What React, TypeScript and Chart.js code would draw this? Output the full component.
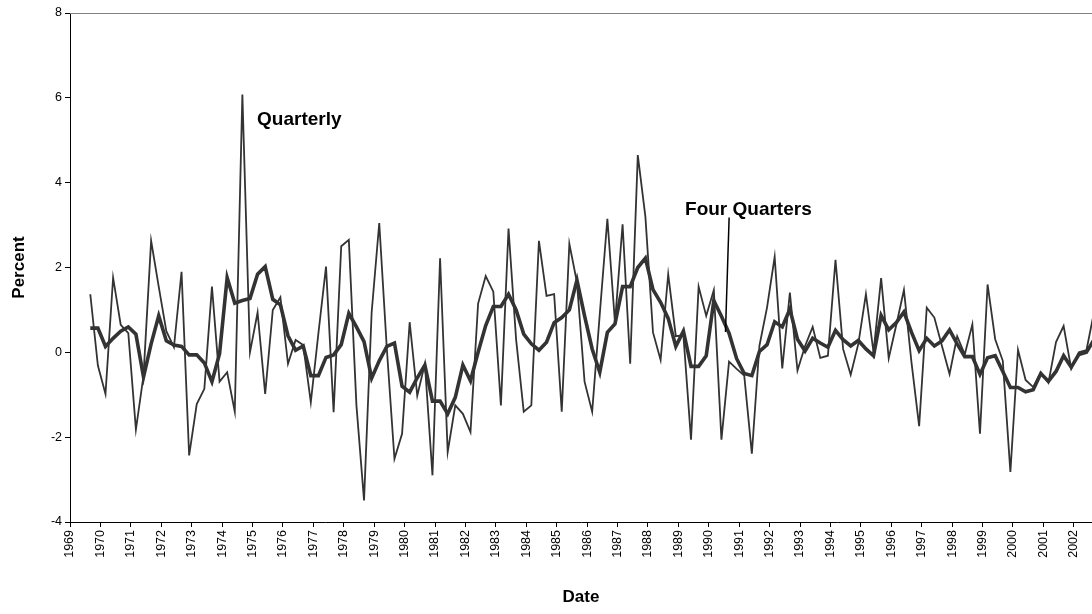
import React, { useEffect, useRef } from "react";
import { Chart, registerables } from "chart.js";

Chart.register(...registerables);

// First quarterly observation (1969 Q3) in fractional years, one step per quarter
const START_YEAR = 1969.667;
const QUARTER_STEP = 0.25;

// Quarterly series (percent)
const quarterly: number[] = [
  1.37, -0.31, -0.98, 1.76, 0.65, 0.45, -1.82, -0.55, 2.63, 1.55,
  0.5, 0.12, 1.9, -2.43, -1.22, -0.86, 1.55, -0.69, -0.47, -1.4,
  6.08, 0.0, 0.94, -0.98, 1.0, 1.3, -0.27, 0.29, 0.17, -1.18,
  0.45, 2.02, -1.41, 2.5, 2.65, -1.25, -3.49, 0.94, 3.05, 0.08,
  -2.51, -1.92, 0.71, -1.02, -0.27, -2.9, 2.22, -2.35, -1.25, -1.45,
  -1.88, 1.15, 1.8, 1.43, -1.25, 2.92, 0.3, -1.4, -1.25, 2.63,
  1.33, 1.37, -1.4, 2.56, 1.65, -0.69, -1.4, 0.9, 3.15, 0.7,
  3.02, -0.27, 4.65, 3.2, 0.47, -0.18, 1.84, 0.38, 0.4, -2.06,
  1.55, 0.86, 1.47, -2.06, -0.22, -0.39, -0.55, -2.39, 0.16, 1.06,
  2.25, -0.38, 1.41, -0.43, 0.15, 0.6, -0.13, -0.08, 2.18, 0.08,
  -0.53, 0.2, 1.37, 0.0, 1.75, -0.14, 0.65, 1.47, -0.25, -1.74,
  1.05, 0.82, 0.15, -0.51, 0.38, -0.05, 0.66, -1.92, 1.6, 0.31,
  -0.2, -2.82, 0.06, -0.65, -0.82, -0.47, -0.72, 0.24, 0.62, -0.39,
  0.0, 0.05, 0.95,
];

// Four-quarter series (percent)
const fourQuarters: number[] = [
  0.57, 0.57, 0.14, 0.33, 0.5, 0.6, 0.43, -0.58, 0.2, 0.86,
  0.27, 0.17, 0.14, -0.06, -0.06, -0.25, -0.69, -0.03, 1.76, 1.16,
  1.22, 1.27, 1.84, 2.02, 1.25, 1.12, 0.39, 0.05, 0.15, -0.55,
  -0.55, -0.12, -0.06, 0.18, 0.92, 0.6, 0.25, -0.61, -0.2, 0.14,
  0.22, -0.8, -0.94, -0.6, -0.3, -1.15, -1.15, -1.45, -1.06, -0.3,
  -0.67, 0.0, 0.63, 1.08, 1.08, 1.37, 1.0, 0.43, 0.2, 0.05,
  0.24, 0.7, 0.82, 1.0, 1.7, 0.86, 0.08, -0.47, 0.47, 0.67,
  1.55, 1.55, 2.0, 2.22, 1.48, 1.18, 0.8, 0.14, 0.5, -0.33,
  -0.33, -0.08, 1.22, 0.85, 0.45, -0.15, -0.5, -0.55, 0.02, 0.18,
  0.72, 0.6, 1.02, 0.31, 0.03, 0.33, 0.22, 0.12, 0.52, 0.3,
  0.15, 0.28, 0.08, -0.08, 0.87, 0.53, 0.7, 0.95, 0.47, 0.04,
  0.33, 0.15, 0.27, 0.53, 0.2, -0.1, -0.1, -0.52, -0.13, -0.08,
  -0.45, -0.83, -0.83, -0.93, -0.88, -0.5, -0.68, -0.45, -0.08, -0.35,
  -0.05, 0.0, 0.3,
];

// Axis ranges
const X_MIN = 1969;
const X_MAX = 2002.6;
const Y_MIN = -4;
const Y_MAX = 8;
const Y_STEP = 2;

// Text
const X_TITLE = "Date";
const Y_TITLE = "Percent";
const seriesLabels = [
  { text: "Quarterly", x: 1975.15, y: 5.49 },
  { text: "Four Quarters", x: 1989.22, y: 3.37 },
];
// leader line from the "Four Quarters" label to its line (data coordinates)
const leaderLine = { x1: 1990.67, y1: 3.18, x2: 1990.55, y2: 0.48 };

const FONT = '"Liberation Sans", Arial, Helvetica, sans-serif';

const toPoints = (vals: number[]) =>
  vals.map((v, i) => ({ x: START_YEAR + i * QUARTER_STEP, y: v }));

const decorPlugin = {
  id: "decor",
  afterDatasetsDraw(chart: any) {
    const { ctx, chartArea, scales } = chart;
    const xs = scales.x;
    const ys = scales.y;
    ctx.save();
    // top frame line
    ctx.strokeStyle = "#808080";
    ctx.lineWidth = 1;
    ctx.beginPath();
    ctx.moveTo(chartArea.left, Math.round(chartArea.top) + 0.5);
    ctx.lineTo(chartArea.right, Math.round(chartArea.top) + 0.5);
    ctx.stroke();
    // labels
    ctx.fillStyle = "#000";
    ctx.font = `bold 19px ${FONT}`;
    ctx.textAlign = "left";
    ctx.textBaseline = "middle";
    seriesLabels.forEach((l) => {
      ctx.fillText(l.text, xs.getPixelForValue(l.x), ys.getPixelForValue(l.y));
    });
    // leader
    ctx.strokeStyle = "#000";
    ctx.lineWidth = 1.5;
    ctx.beginPath();
    ctx.moveTo(xs.getPixelForValue(leaderLine.x1), ys.getPixelForValue(leaderLine.y1));
    ctx.lineTo(xs.getPixelForValue(leaderLine.x2), ys.getPixelForValue(leaderLine.y2));
    ctx.stroke();
    ctx.restore();
  },
};

export default function App() {
  const canvasRef = useRef<HTMLCanvasElement | null>(null);

  useEffect(() => {
    if (!canvasRef.current) return;
    const chart = new Chart(canvasRef.current, {
      type: "line",
      data: {
        datasets: [
          {
            label: "Quarterly",
            data: toPoints(quarterly),
            borderColor: "#333333",
            borderWidth: 1.8,
            pointRadius: 0,
            tension: 0,
            fill: false,
          },
          {
            label: "Four Quarters",
            data: toPoints(fourQuarters),
            borderColor: "#333333",
            borderWidth: 3.6,
            pointRadius: 0,
            tension: 0,
            fill: false,
          },
        ],
      },
      options: {
        animation: false,
        responsive: false,
        devicePixelRatio: 1,
        parsing: false,
        layout: { padding: { top: 13, right: 0, left: 0, bottom: 0 } },
        plugins: {
          legend: { display: false },
          tooltip: { enabled: false },
        },
        scales: {
          x: {
            type: "linear",
            min: X_MIN,
            max: X_MAX,
            afterFit: (s: any) => {
              s.height = 92;
            },
            ticks: {
              stepSize: 1,
              includeBounds: false,
              autoSkip: false,
              minRotation: 90,
              maxRotation: 90,
              padding: 3,
              color: "#000",
              font: { family: FONT, size: 12.5 },
              callback: (v: any) => String(Math.round(Number(v))),
            },
            grid: {
              display: true,
              drawOnChartArea: false,
              drawTicks: true,
              tickLength: 5,
              tickColor: "#000",
            },
            border: { display: true, color: "#000", width: 1 },
            title: {
              display: true,
              text: X_TITLE,
              color: "#000",
              font: { family: FONT, size: 17, weight: "bold" },
              padding: { top: 0, bottom: 6 },
            },
          },
          y: {
            type: "linear",
            min: Y_MIN,
            max: Y_MAX,
            afterFit: (s: any) => {
              s.width = 70;
            },
            ticks: {
              stepSize: Y_STEP,
              padding: 3,
              color: "#000",
              font: { family: FONT, size: 12.5 },
              callback: (v: any) => String(v),
            },
            grid: {
              display: true,
              drawOnChartArea: false,
              drawTicks: true,
              tickLength: 5,
              tickColor: "#000",
            },
            border: { display: true, color: "#000", width: 1 },
            title: {
              display: true,
              text: Y_TITLE,
              color: "#000",
              font: { family: FONT, size: 17, weight: "bold" },
              padding: { top: 9, bottom: 0 },
            },
          },
        },
      },
      plugins: [decorPlugin],
    } as any);
    return () => chart.destroy();
  }, []);

  return (
    <div
      style={{
        position: "absolute",
        left: 0,
        top: 0,
        width: 1092,
        height: 614,
        background: "#fff",
      }}
    >
      <canvas ref={canvasRef} width={1092} height={614} />
    </div>
  );
}
